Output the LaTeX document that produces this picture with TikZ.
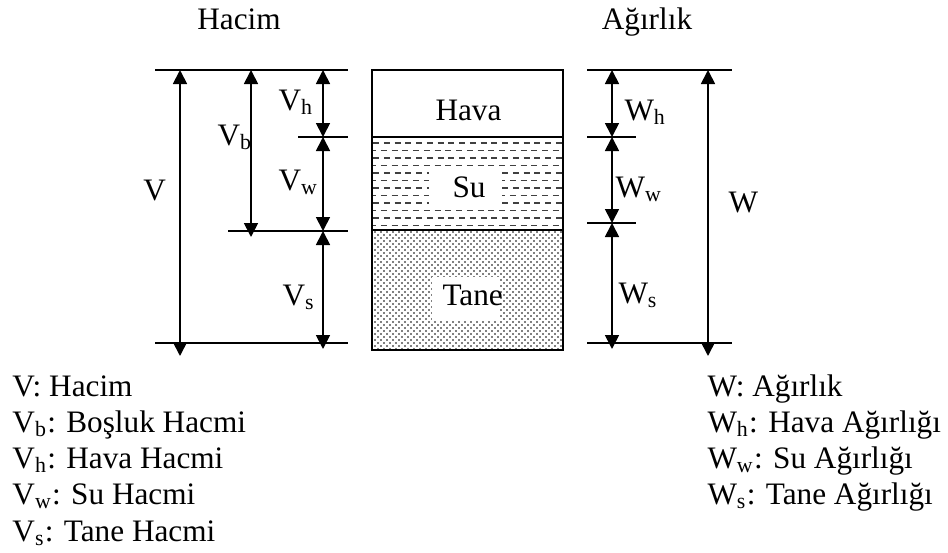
\documentclass[tikz,border=0pt]{standalone}
\usepackage{fontspec}
\setmainfont{Liberation Serif}
\usepackage{tikz}
\usetikzlibrary{arrows.meta,patterns}
\pgfdeclarepatternformonly{tanedots}{\pgfqpoint{-0.5pt}{-0.5pt}}{\pgfqpoint{2.9pt}{2.9pt}}{\pgfqpoint{2.4pt}{2.4pt}}{%
  \pgfpathcircle{\pgfqpoint{0pt}{0pt}}{0.33pt}%
  \pgfpathcircle{\pgfqpoint{1.2pt}{1.2pt}}{0.33pt}%
  \pgfusepath{fill}}

\begin{document}
\begin{tikzpicture}[x=0.4pt,y=-0.4pt,>={Triangle[length=5.6pt,width=5.6pt]},every node/.style={font=\fontsize{12.5}{15}\selectfont,inner sep=0pt,anchor=base west},dim/.style={<->,line width=0.7pt},lvl/.style={line width=0.7pt},water/.style={black!75,line width=0.75pt,dash pattern=on 2.4pt off 1.9pt}]
\useasboundingbox (0,0) rectangle (948,553);
\node[anchor=base] (hacim) at (239,29) {Hacim};
\node[anchor=base] (agirlik) at (647,30) {Ağırlık};
\fill[pattern=tanedots] (372,230) rectangle (563,350);
\foreach \k in {0,...,11}{
  \pgfmathsetmacro\ph{mod(\k,2)*1.2}
  \draw[water,dash phase=\ph pt] (373,143+7.5*\k) -- (562,143+7.5*\k);
}
\fill[white] (429,169) rectangle (502,206);
\fill[white] (432,277) rectangle (500,320);
\draw[lvl] (372,70) rectangle (563,350);
\draw[lvl] (372,137) -- (563,137);
\draw[lvl] (372,230) -- (563,230);
\node (hava) at (435,120) {Hava};
\node (su) at (452,197) {Su};
\node (tane) at (442,305) {Tane};
\draw[lvl] (155,70) -- (348,70);
\draw[lvl] (298,137) -- (348,137);
\draw[lvl] (228,231) -- (348,231);
\draw[lvl] (155,343) -- (348,343);
\coordinate (va) at (180,70);
\coordinate (vz) at (180,356);
\coordinate (vba) at (251,70);
\coordinate (vbz) at (251,237);
\coordinate (vha) at (323,70);
\coordinate (vhz) at (323,137);
\coordinate (vwz) at (323,231);
\coordinate (vsz) at (323,349);
\draw[dim] (va)--(vz);
\draw[dim] (vba)--(vbz);
\draw[dim] (vha)--(vhz);
\draw[dim] (vhz)--(vwz);
\draw[dim] (vwz)--(vsz);
\node (v) at (143,200) {V};
\node (vb) at (217,145) {V\textsubscript{b}};
\node (vh) at (278,110) {V\textsubscript{h}};
\node (vw) at (278,190) {V\textsubscript{w}};
\node (vs) at (282,305) {V\textsubscript{s}};
\draw[lvl] (587,70) -- (732,70);
\draw[lvl] (587,137) -- (636,137);
\draw[lvl] (587,223) -- (636,223);
\draw[lvl] (587,343) -- (732,343);
\coordinate (wa) at (708,70);
\coordinate (wz) at (708,356);
\coordinate (wha) at (612,70);
\coordinate (whz) at (612,137);
\coordinate (wwz) at (612,223);
\coordinate (wsz) at (612,349);
\draw[dim] (wa)--(wz);
\draw[dim] (wha)--(whz);
\draw[dim] (whz)--(wwz);
\draw[dim] (wwz)--(wsz);
\node (w) at (728,212) {W};
\node (wh) at (624,120) {W\textsubscript{h}};
\node (ww) at (615,197) {W\textsubscript{w}};
\node (ws) at (618,303) {W\textsubscript{s}};
\node (key1) at (12,396) {V: Hacim};
\node (key2) at (12,432) {V\textsubscript{b}: Boşluk Hacmi};
\node (key3) at (12,468) {V\textsubscript{h}: Hava Hacmi};
\node (key4) at (12,504) {V\textsubscript{w}: Su Hacmi};
\node (key5) at (12,541) {V\textsubscript{s}: Tane Hacmi};
\node (key6) at (707,396) {W: Ağırlık};
\node (key7) at (707,432) {W\textsubscript{h}: Hava Ağırlığı};
\node (key8) at (707,468) {W\textsubscript{w}: Su Ağırlığı};
\node (key9) at (707,504) {W\textsubscript{s}: Tane Ağırlığı};
\end{tikzpicture}
\end{document}
